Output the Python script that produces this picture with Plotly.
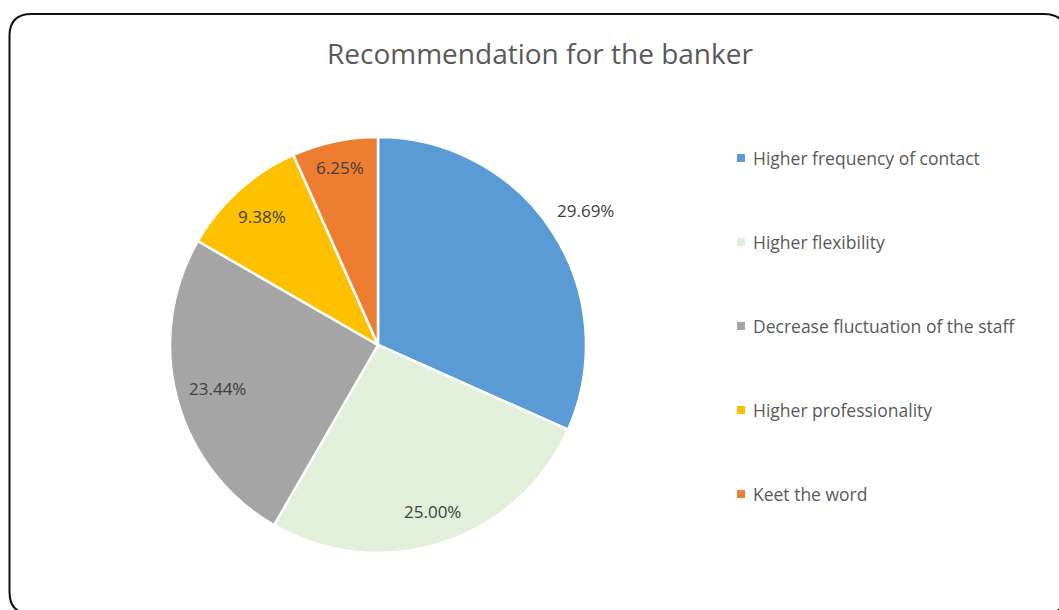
import math
import plotly.graph_objects as go

# Survey answers: recommendations for the banker
categories = [
    "Higher frequency of contact",
    "Higher flexibility",
    "Decrease fluctuation of the staff",
    "Higher professionality",
    "Keet the word",
]
shares = [29.69, 25.00, 23.44, 9.38, 6.25]
colors = ["#5B9BD5", "#E2EFDA", "#A5A5A5", "#FFC000", "#ED7D31"]

W, H = 1059, 610
cx, cy, R = 378, 345, 208  # pie centre and radius in pixels
FONT = "Open Sans"


def px(x):
    return x / W


def py(y):
    return 1 - y / H


fig = go.Figure()
fig.add_trace(go.Pie(
    labels=categories,
    values=shares,
    marker=dict(colors=colors, line=dict(color="white", width=2.5)),
    sort=False,
    direction="clockwise",
    rotation=0,
    textinfo="none",
    hoverinfo="label+value",
    showlegend=False,
    domain=dict(x=[px(cx - R), px(cx + R)], y=[py(cy + R), py(cy - R)]),
))

# data labels at each slice's mid-angle
label_radius = [1.19, 0.84, 0.80, 0.83, 0.87]
total = sum(shares)
cum = 0.0
annotations = []
for v, rf in zip(shares, label_radius):
    mid = (cum + v / 2) / total * 2 * math.pi
    cum += v
    lx = cx + rf * R * math.sin(mid)
    ly = cy - rf * R * math.cos(mid)
    annotations.append(dict(
        x=px(lx), y=py(ly), xref="paper", yref="paper",
        text=f"{v:.2f}%", showarrow=False,
        font=dict(family=FONT, size=17, color="#404040"),
        xanchor="center", yanchor="middle",
    ))

# legend, one entry per category
shapes = []
leg_y0, leg_dy = 158, 84
for i, (name, col) in enumerate(zip(categories, colors)):
    y = leg_y0 + i * leg_dy
    shapes.append(dict(
        type="rect", xref="paper", yref="paper",
        x0=px(737), x1=px(745), y0=py(y + 4), y1=py(y - 4),
        fillcolor=col, line=dict(width=0),
    ))
    annotations.append(dict(
        x=px(751), y=py(y), xref="paper", yref="paper",
        text=name, showarrow=False, xanchor="left", yanchor="middle",
        font=dict(family=FONT, size=17.5, color="#595959"),
    ))

# title
annotations.append(dict(
    x=px(540), y=py(53), xref="paper", yref="paper",
    text="Recommendation for the banker", showarrow=False,
    xanchor="center", yanchor="middle",
    font=dict(family=FONT, size=28, color="#595959"),
))

# rounded chart border
l, t, r, b, rad = 9.5, 14, 1066, 614, 22
path = (
    f"M {px(l)},{py(t + rad)} "
    f"Q {px(l)},{py(t)} {px(l + rad)},{py(t)} "
    f"L {px(r - rad)},{py(t)} "
    f"Q {px(r)},{py(t)} {px(r)},{py(t + rad)} "
    f"L {px(r)},{py(b - rad)} "
    f"Q {px(r)},{py(b)} {px(r - rad)},{py(b)} "
    f"L {px(l + rad)},{py(b)} "
    f"Q {px(l)},{py(b)} {px(l)},{py(b - rad)} Z"
)
shapes.append(dict(type="path", xref="paper", yref="paper", path=path,
                   line=dict(color="#111111", width=2), fillcolor="rgba(0,0,0,0)"))

fig.update_layout(
    width=W, height=H,
    margin=dict(l=0, r=0, t=0, b=0),
    paper_bgcolor="white", plot_bgcolor="white",
    annotations=annotations, shapes=shapes,
)

fig.write_html("out.html")
